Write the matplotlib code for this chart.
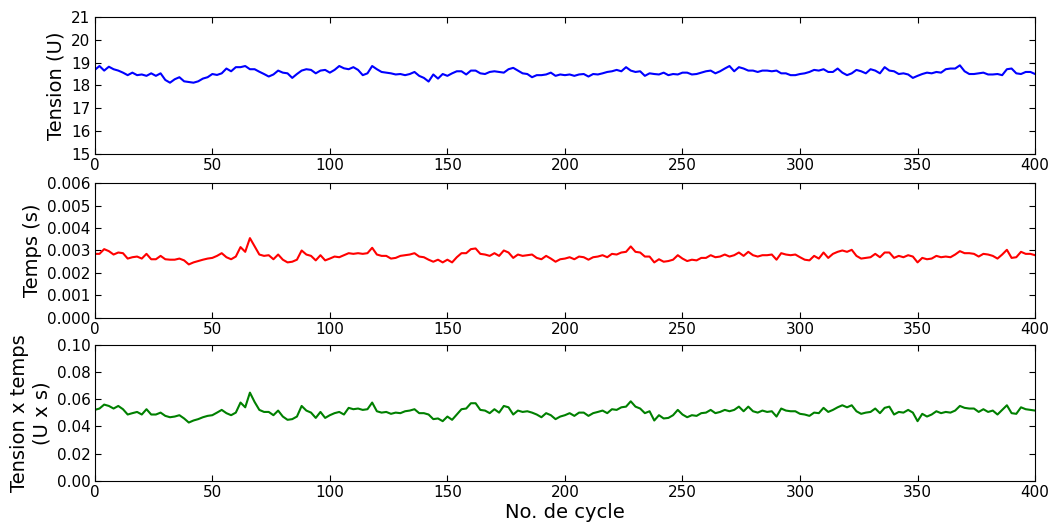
import numpy as np
import matplotlib
matplotlib.use('Agg')
import matplotlib.pyplot as plt

# cycles (every 2 cycles)
cycles = np.arange(0, 401, 2)

tension = [
    18.68, 18.85, 18.65, 18.82, 18.71, 18.65, 18.56, 18.45, 18.56, 18.45,
    18.48, 18.42, 18.53, 18.42, 18.53, 18.24, 18.12, 18.27, 18.36, 18.18,
    18.15, 18.12, 18.18, 18.30, 18.36, 18.50, 18.46, 18.53, 18.74, 18.62,
    18.80, 18.80, 18.85, 18.71, 18.71, 18.60, 18.50, 18.39, 18.48, 18.65,
    18.56, 18.53, 18.33, 18.50, 18.65, 18.71, 18.68, 18.53, 18.65, 18.68,
    18.56, 18.68, 18.85, 18.75, 18.71, 18.80, 18.68, 18.45, 18.53, 18.85,
    18.71, 18.59, 18.56, 18.53, 18.48, 18.50, 18.45, 18.50, 18.59, 18.42,
    18.33, 18.17, 18.48, 18.30, 18.50, 18.42, 18.53, 18.62, 18.62, 18.48,
    18.65, 18.65, 18.53, 18.50, 18.59, 18.62, 18.59, 18.56, 18.71, 18.77,
    18.65, 18.53, 18.50, 18.36, 18.45, 18.45, 18.48, 18.56, 18.42, 18.48,
    18.45, 18.48, 18.42, 18.48, 18.50, 18.39, 18.50, 18.48, 18.53, 18.59,
    18.62, 18.68, 18.62, 18.80, 18.65, 18.59, 18.62, 18.42, 18.53, 18.50,
    18.48, 18.56, 18.45, 18.50, 18.48, 18.56, 18.56, 18.48, 18.50, 18.56,
    18.62, 18.65, 18.53, 18.62, 18.74, 18.85, 18.62, 18.80, 18.74, 18.65,
    18.65, 18.59, 18.65, 18.65, 18.62, 18.65, 18.53, 18.53, 18.45, 18.45,
    18.50, 18.53, 18.59, 18.68, 18.65, 18.71, 18.59, 18.59, 18.74, 18.56,
    18.45, 18.53, 18.68, 18.62, 18.53, 18.71, 18.65, 18.53, 18.80, 18.65,
    18.62, 18.50, 18.53, 18.48, 18.33, 18.42, 18.50, 18.56, 18.53, 18.59,
    18.56, 18.71, 18.74, 18.74, 18.88, 18.62, 18.50, 18.50, 18.53, 18.56,
    18.48, 18.48, 18.50, 18.45, 18.71, 18.74, 18.53, 18.50, 18.59, 18.59,
    18.50,
]

temps = [
    0.00285, 0.00285, 0.00306, 0.00297, 0.00282, 0.00291, 0.00288, 0.00264, 0.00270, 0.00273,
    0.00264, 0.00285, 0.00261, 0.00261, 0.00276, 0.00261, 0.00259, 0.00259, 0.00264, 0.00256,
    0.00238, 0.00247, 0.00253, 0.00259, 0.00264, 0.00267, 0.00276, 0.00288, 0.00270, 0.00261,
    0.00273, 0.00315, 0.00294, 0.00355, 0.00318, 0.00282, 0.00276, 0.00279, 0.00261, 0.00282,
    0.00259, 0.00247, 0.00250, 0.00259, 0.00300, 0.00282, 0.00276, 0.00256, 0.00279, 0.00256,
    0.00264, 0.00273, 0.00270, 0.00279, 0.00288, 0.00285, 0.00288, 0.00285, 0.00288, 0.00312,
    0.00282, 0.00276, 0.00276, 0.00264, 0.00267, 0.00276, 0.00279, 0.00282, 0.00288, 0.00273,
    0.00270, 0.00259, 0.00250, 0.00259, 0.00247, 0.00259, 0.00247, 0.00270, 0.00288, 0.00288,
    0.00306, 0.00309, 0.00285, 0.00282, 0.00276, 0.00288, 0.00276, 0.00300, 0.00291, 0.00267,
    0.00282, 0.00276, 0.00279, 0.00282, 0.00267, 0.00261, 0.00276, 0.00264, 0.00250, 0.00261,
    0.00264, 0.00270, 0.00261, 0.00273, 0.00270, 0.00259, 0.00270, 0.00273, 0.00279, 0.00270,
    0.00285, 0.00282, 0.00291, 0.00294, 0.00318, 0.00294, 0.00291, 0.00273, 0.00273, 0.00247,
    0.00261, 0.00250, 0.00253, 0.00259, 0.00279, 0.00264, 0.00253, 0.00259, 0.00256, 0.00267,
    0.00267, 0.00279, 0.00270, 0.00273, 0.00282, 0.00273, 0.00279, 0.00291, 0.00276, 0.00294,
    0.00279, 0.00273, 0.00279, 0.00279, 0.00282, 0.00259, 0.00288, 0.00282, 0.00279, 0.00282,
    0.00270, 0.00259, 0.00256, 0.00276, 0.00264, 0.00291, 0.00267, 0.00285, 0.00294, 0.00300,
    0.00294, 0.00303, 0.00276, 0.00264, 0.00267, 0.00270, 0.00285, 0.00270, 0.00291, 0.00291,
    0.00267, 0.00276, 0.00270, 0.00279, 0.00273, 0.00247, 0.00267, 0.00261, 0.00264, 0.00276,
    0.00270, 0.00273, 0.00270, 0.00282, 0.00297, 0.00288, 0.00288, 0.00285, 0.00273, 0.00285,
    0.00282, 0.00276, 0.00264, 0.00282, 0.00303, 0.00267, 0.00270, 0.00294, 0.00285, 0.00285,
    0.00279,
]

tension_temps = [
    0.0522, 0.0532, 0.0561, 0.0551, 0.0532, 0.0551, 0.0527, 0.0488, 0.0498, 0.0507,
    0.0488, 0.0527, 0.0488, 0.0488, 0.0502, 0.0478, 0.0468, 0.0473, 0.0483, 0.0459,
    0.0429, 0.0444, 0.0454, 0.0468, 0.0478, 0.0483, 0.0502, 0.0522, 0.0498, 0.0483,
    0.0502, 0.0576, 0.0541, 0.0649, 0.0580, 0.0522, 0.0507, 0.0507, 0.0483, 0.0517,
    0.0473, 0.0449, 0.0454, 0.0473, 0.0551, 0.0517, 0.0502, 0.0463, 0.0507, 0.0463,
    0.0483, 0.0498, 0.0507, 0.0488, 0.0537, 0.0527, 0.0532, 0.0522, 0.0527, 0.0576,
    0.0512, 0.0502, 0.0507, 0.0493, 0.0502, 0.0498, 0.0512, 0.0517, 0.0527, 0.0498,
    0.0498, 0.0488, 0.0454, 0.0459, 0.0439, 0.0473, 0.0449, 0.0488, 0.0527, 0.0532,
    0.0571, 0.0571, 0.0522, 0.0517, 0.0498, 0.0527, 0.0502, 0.0551, 0.0541, 0.0488,
    0.0517, 0.0507, 0.0512, 0.0502, 0.0488, 0.0468, 0.0498, 0.0483, 0.0454, 0.0473,
    0.0483, 0.0498, 0.0478, 0.0502, 0.0502, 0.0478, 0.0498, 0.0507, 0.0517, 0.0498,
    0.0527, 0.0522, 0.0541, 0.0546, 0.0585, 0.0546, 0.0532, 0.0498, 0.0512, 0.0444,
    0.0483, 0.0459, 0.0463, 0.0483, 0.0522, 0.0488, 0.0468, 0.0483, 0.0478, 0.0498,
    0.0502, 0.0522, 0.0498, 0.0507, 0.0522, 0.0512, 0.0522, 0.0546, 0.0512, 0.0546,
    0.0512, 0.0502, 0.0517, 0.0507, 0.0512, 0.0473, 0.0532, 0.0517, 0.0512, 0.0512,
    0.0493, 0.0488, 0.0478, 0.0502, 0.0498, 0.0537, 0.0507, 0.0522, 0.0541, 0.0556,
    0.0541, 0.0556, 0.0512, 0.0493, 0.0502, 0.0507, 0.0532, 0.0498, 0.0537, 0.0546,
    0.0488, 0.0507, 0.0502, 0.0522, 0.0502, 0.0439, 0.0493, 0.0473, 0.0488, 0.0512,
    0.0498, 0.0507, 0.0502, 0.0517, 0.0551, 0.0537, 0.0532, 0.0532, 0.0507, 0.0527,
    0.0507, 0.0517, 0.0488, 0.0522, 0.0556, 0.0498, 0.0493, 0.0541, 0.0527, 0.0522,
    0.0517,
]

plt.rcParams['font.family'] = 'DejaVu Sans'
plt.rcParams['xtick.direction'] = 'in'
plt.rcParams['ytick.direction'] = 'in'
plt.rcParams['xtick.top'] = True
plt.rcParams['ytick.right'] = True
plt.rcParams['xtick.major.size'] = 4
plt.rcParams['ytick.major.size'] = 4

fig = plt.figure(figsize=(10.53, 5.29), dpi=100, facecolor='white')
ax1 = fig.add_axes([0.090, 0.709, 0.893, 0.259])
ax2 = fig.add_axes([0.090, 0.399, 0.893, 0.255])
ax3 = fig.add_axes([0.090, 0.091, 0.893, 0.257])

ax1.plot(cycles, tension, color='b', lw=1.5)
ax1.set_ylim(15, 21)
ax1.set_yticks(range(15, 22))
ax1.set_ylabel('Tension (U)', fontsize=14)

ax2.plot(cycles, temps, color='r', lw=1.5)
ax2.set_ylim(0, 0.006)
ax2.set_yticks(np.arange(0, 0.0061, 0.001))
ax2.yaxis.set_major_formatter(matplotlib.ticker.FormatStrFormatter('%.3f'))
ax2.set_ylabel('Temps (s)', fontsize=14)

ax3.plot(cycles, tension_temps, color='g', lw=1.5)
ax3.set_ylim(0, 0.10)
ax3.set_yticks(np.arange(0, 0.101, 0.02))
ax3.yaxis.set_major_formatter(matplotlib.ticker.FormatStrFormatter('%.2f'))
ax3.set_ylabel('Tension x temps\n(U x s)', fontsize=14)
ax3.set_xlabel('No. de cycle', fontsize=14, labelpad=2)

for ax in (ax1, ax2, ax3):
    ax.set_xlim(0, 400)
    ax.set_xticks(range(0, 401, 50))
    ax.tick_params(labelsize=11, pad=3)

fig.savefig('out.png', dpi=100, facecolor='white')
